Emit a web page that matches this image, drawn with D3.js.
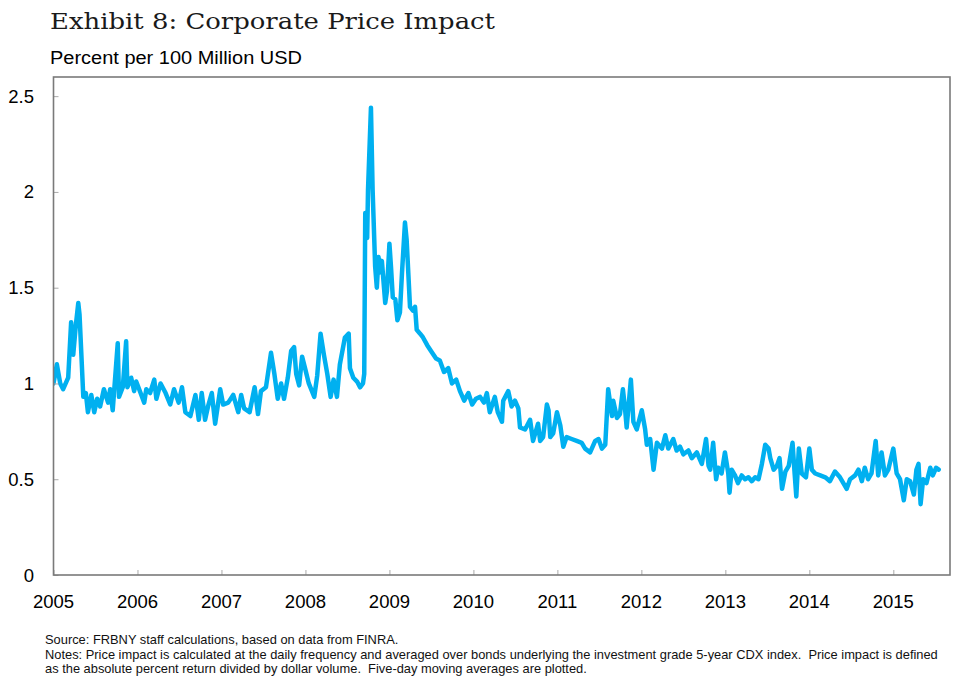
<!DOCTYPE html>
<html>
<head>
<meta charset="utf-8">
<script src="https://cdn.jsdelivr.net/npm/d3@7"></script>
<style>
  html, body { margin: 0; padding: 0; background: #fff; }
  svg { display: block; }
  text { white-space: pre; }
</style>
</head>
<body>
<svg id="chart" width="960" height="684"></svg>
<script>
// ---- Data (decimal year, percent per 100 million USD; five-day moving average) ----
const years = [
  2005.00,2005.04,2005.08,2005.115,2005.175,2005.21,2005.235,2005.265,2005.295,2005.31,
  2005.355,2005.385,2005.41,2005.45,2005.485,2005.52,2005.555,2005.60,2005.65,2005.675,
  2005.705,2005.765,2005.78,2005.825,2005.865,2005.88,2005.925,2005.96,2005.985,
  2006.02,2006.08,2006.105,2006.15,2006.20,2006.225,2006.275,2006.335,2006.39,2006.435,
  2006.49,2006.53,2006.57,2006.63,2006.69,2006.73,2006.765,2006.805,2006.84,2006.885,
  2006.925,2006.985,
  2007.02,2007.08,2007.14,2007.20,2007.235,2007.27,2007.335,2007.395,2007.435,2007.47,
  2007.53,2007.59,2007.63,2007.67,2007.71,2007.745,2007.79,2007.83,2007.865,2007.89,
  2007.925,2007.96,2007.995,
  2008.04,2008.105,2008.14,2008.18,2008.22,2008.26,2008.30,2008.335,2008.375,2008.41,
  2008.47,2008.515,2008.53,2008.57,2008.615,2008.65,2008.685,2008.70,2008.712,2008.735,
  2008.745,2008.78,2008.80,2008.83,2008.85,2008.87,2008.89,2008.91,2008.95,2008.97,
  2009.00,2009.02,2009.04,2009.07,2009.095,2009.125,2009.15,2009.185,2009.205,2009.245,
  2009.28,2009.305,2009.325,2009.365,2009.40,2009.45,2009.495,2009.555,2009.60,2009.65,
  2009.70,2009.745,2009.795,2009.84,2009.89,2009.94,2009.985,
  2010.03,2010.08,2010.125,2010.16,2010.195,2010.255,2010.29,2010.34,2010.355,2010.415,
  2010.455,2010.495,2010.535,2010.555,2010.615,2010.675,2010.71,2010.77,2010.795,2010.83,
  2010.875,2010.895,2010.915,2010.95,2010.995,
  2011.035,2011.07,2011.11,2011.17,2011.23,2011.29,2011.33,2011.39,2011.45,2011.49,
  2011.53,2011.57,2011.605,2011.65,2011.665,2011.71,2011.745,2011.78,2011.805,2011.825,
  2011.875,2011.905,2011.945,
  2012.005,2012.045,2012.065,2012.105,2012.145,2012.185,2012.245,2012.285,2012.32,2012.38,
  2012.42,2012.46,2012.50,2012.56,2012.60,2012.66,2012.72,2012.77,2012.80,2012.82,
  2012.855,2012.89,2012.915,2012.955,2012.995,
  2013.035,2013.05,2013.075,2013.115,2013.15,2013.195,2013.235,2013.275,2013.315,2013.355,
  2013.395,2013.435,2013.475,2013.515,2013.535,2013.575,2013.615,2013.645,2013.675,2013.715,
  2013.755,2013.80,2013.825,2013.845,2013.875,2013.91,2013.96,
  2014.00,2014.03,2014.07,2014.13,2014.19,2014.245,2014.305,2014.365,2014.445,2014.485,
  2014.545,2014.585,2014.625,2014.66,2014.70,2014.74,2014.79,2014.82,2014.86,2014.90,
  2014.94,
  2015.00,2015.04,2015.08,2015.125,2015.16,2015.20,2015.245,2015.275,2015.30,2015.325,
  2015.355,2015.395,2015.44,2015.47,2015.51,2015.54
];
const priceImpact = [
  1.00,1.10,1.00,0.97,1.03,1.32,1.15,1.30,1.42,1.36,
  0.93,0.95,0.85,0.94,0.85,0.92,0.88,0.97,0.90,0.97,
  0.86,1.21,0.93,0.98,1.22,0.98,1.03,0.96,1.01,
  0.97,0.90,0.97,0.95,1.02,0.92,1.00,0.95,0.89,0.97,
  0.90,0.98,0.85,0.83,0.94,0.81,0.95,0.81,0.88,0.95,
  0.79,0.97,
  0.89,0.90,0.94,0.85,0.94,0.87,0.85,0.98,0.84,0.96,
  0.98,1.16,1.05,0.92,1.00,0.92,1.03,1.17,1.19,1.05,
  0.99,1.14,1.08,
  1.00,0.93,1.04,1.26,1.15,1.05,0.93,1.02,0.93,1.10,
  1.24,1.26,1.08,1.03,1.01,0.98,1.00,1.05,1.89,1.76,
  2.01,2.44,2.01,1.61,1.50,1.66,1.58,1.64,1.42,1.48,
  1.73,1.60,1.45,1.44,1.33,1.37,1.58,1.84,1.75,1.40,
  1.38,1.40,1.28,1.26,1.24,1.20,1.17,1.13,1.12,1.06,
  1.08,1.00,1.02,0.96,0.91,0.95,0.89,
  0.92,0.93,0.90,0.95,0.85,0.93,0.85,0.80,0.91,0.96,
  0.88,0.91,0.87,0.77,0.76,0.81,0.70,0.79,0.70,0.72,
  0.89,0.86,0.72,0.74,0.85,
  0.78,0.67,0.72,0.71,0.70,0.69,0.66,0.64,0.70,0.71,
  0.66,0.68,0.97,0.83,0.91,0.82,0.84,0.97,0.87,0.77,
  1.02,0.80,0.76,
  0.86,0.76,0.68,0.71,0.55,0.69,0.66,0.73,0.66,0.71,
  0.65,0.67,0.63,0.65,0.61,0.64,0.58,0.71,0.57,0.55,
  0.69,0.50,0.56,0.53,0.64,
  0.53,0.43,0.55,0.52,0.48,0.52,0.50,0.51,0.49,0.51,
  0.50,0.58,0.68,0.66,0.61,0.55,0.57,0.61,0.45,0.54,
  0.57,0.69,0.53,0.41,0.66,0.53,0.51,
  0.66,0.55,0.53,0.52,0.51,0.49,0.54,0.51,0.45,0.50,
  0.52,0.55,0.49,0.56,0.50,0.53,0.70,0.52,0.64,0.52,
  0.55,
  0.66,0.53,0.50,0.39,0.50,0.49,0.42,0.55,0.58,0.37,
  0.50,0.48,0.56,0.52,0.56,0.55
];
const xTickYears = [2005,2006,2007,2008,2009,2010,2011,2012,2013,2014,2015];
const yTickValues = [0,0.5,1,1.5,2,2.5];
const yTickLabels = ["0","0.5","1","1.5","2","2.5"];

const titleText = "Exhibit 8: Corporate Price Impact";
const subtitleText = "Percent per 100 Million USD";
const noteLines = [
  "Source: FRBNY staff calculations, based on data from FINRA.",
  "Notes: Price impact is calculated at the daily frequency and averaged over bonds underlying the investment grade 5-year CDX index.  Price impact is defined",
  "as the absolute percent return divided by dollar volume.  Five-day moving averages are plotted."
];

// ---- Layout ----
const plot = { left: 53.5, right: 950, top: 77, bottom: 575 };
const svg = d3.select("#chart");

const x = d3.scaleLinear().domain([2005, 2015.675]).range([plot.left, plot.right]);
const y = d3.scaleLinear().domain([0, 2.6]).range([plot.bottom, plot.top]);

const data = years.map((yr, i) => ({ t: yr, v: priceImpact[i] }));

// Title
svg.append("text")
  .attr("x", 50).attr("y", 29)
  .attr("font-family", "'DejaVu Serif', 'Liberation Serif', serif")
  .attr("font-size", 22)
  .attr("textLength", 445)
  .attr("lengthAdjust", "spacingAndGlyphs")
  .attr("fill", "#1a1a1a")
  .text(titleText);

// Subtitle
svg.append("text")
  .attr("x", 50).attr("y", 64)
  .attr("font-family", "'Liberation Sans', Arial, sans-serif")
  .attr("font-size", 18)
  .attr("textLength", 252)
  .attr("lengthAdjust", "spacingAndGlyphs")
  .attr("fill", "#000")
  .text(subtitleText);

// Line clip
svg.append("clipPath").attr("id", "clip")
  .append("rect")
  .attr("x", plot.left).attr("y", plot.top)
  .attr("width", plot.right - plot.left).attr("height", plot.bottom - plot.top);

// Series line
const line = d3.line().x(d => x(d.t)).y(d => y(d.v));
svg.append("path")
  .datum(data)
  .attr("d", line)
  .attr("fill", "none")
  .attr("stroke", "#00B0F0")
  .attr("stroke-width", 4.5)
  .attr("stroke-linejoin", "round")
  .attr("stroke-linecap", "round")
  .attr("clip-path", "url(#clip)");

// Axes (ticks inward)
const axisColor = "#7a7a7a";
const yAxis = d3.axisLeft(y).tickValues(yTickValues).tickSize(-5).tickFormat("");
const xAxis = d3.axisBottom(x).tickValues(xTickYears).tickSize(-5).tickFormat("");

const gy = svg.append("g").attr("transform", `translate(${plot.left},0)`).call(yAxis);
const gx = svg.append("g").attr("transform", `translate(0,${plot.bottom})`).call(xAxis);
[gy, gx].forEach(g => {
  g.select(".domain").remove();
  g.selectAll(".tick line").attr("stroke", "#aaa").attr("stroke-width", 1);
});

// Frame
svg.append("rect")
  .attr("x", plot.left).attr("y", plot.top)
  .attr("width", plot.right - plot.left).attr("height", plot.bottom - plot.top)
  .attr("fill", "none")
  .attr("stroke", axisColor)
  .attr("stroke-width", 1.6);

// Tick labels
svg.append("g").selectAll("text")
  .data(yTickValues)
  .join("text")
  .attr("x", 34)
  .attr("y", d => y(d) + 6.5)
  .attr("text-anchor", "end")
  .attr("font-family", "'Liberation Sans', Arial, sans-serif")
  .attr("font-size", 18.5)
  .attr("fill", "#000")
  .text((d, i) => yTickLabels[i]);

svg.append("g").selectAll("text")
  .data(xTickYears)
  .join("text")
  .attr("x", d => x(d))
  .attr("y", 608)
  .attr("text-anchor", "middle")
  .attr("font-family", "'Liberation Sans', Arial, sans-serif")
  .attr("font-size", 18.5)
  .attr("fill", "#000")
  .text(d => String(d));

// Notes
const notes = svg.append("g").selectAll("text")
  .data(noteLines)
  .join("text")
  .attr("x", 45)
  .attr("y", (d, i) => 644 + i * 14.5)
  .attr("font-family", "'Liberation Sans', Arial, sans-serif")
  .attr("font-size", 12)
  .attr("fill", "#111")
  .text(d => d);
// fit the widest note line to the reference width
const w2 = notes.nodes()[1].getComputedTextLength();
if (w2 > 0) notes.attr("font-size", 12 * 894 / w2);
</script>
</body>
</html>
